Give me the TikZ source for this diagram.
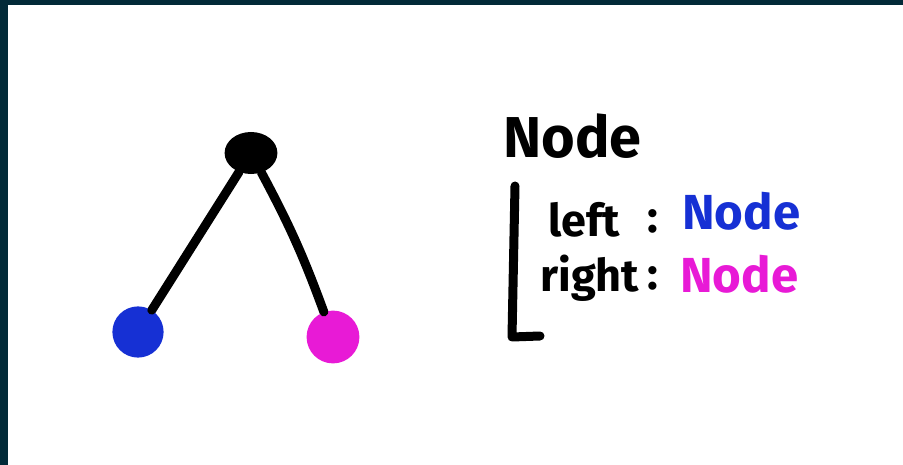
\documentclass[tikz,border=0pt]{standalone}
\usepackage{fontspec}
\setmainfont{Fira Sans}
\usepackage{tikz}
\usetikzlibrary{shapes.geometric,positioning}

\definecolor{framebg}{RGB}{2,42,56}
\definecolor{markerblue}{RGB}{22,48,212}
\definecolor{markerpink}{RGB}{232,26,214}

\begin{document}
\begin{tikzpicture}[
    x=0.025cm, y=-0.025cm,
    ball/.style={circle, draw=none, inner sep=0pt, minimum size=1.28cm},
    link/.style={line width=6.4pt, line cap=round},
    head/.style={anchor=base west, inner sep=0pt, font=\bfseries\fontsize{41}{41}\selectfont},
    lbl/.style={anchor=base west, inner sep=0pt, font=\bfseries\fontsize{32}{32}\selectfont},
    val/.style={lbl, font=\bfseries\fontsize{35}{35}\selectfont}
]
\useasboundingbox (0,0) rectangle (903,465);
\fill[framebg] (0,0) rectangle (903,465);
\fill[white] (8,5) rectangle (903,465);

% tree
\node[ellipse, fill=black, inner sep=0pt, minimum width=1.32cm, minimum height=1.05cm] (root) at (251,153) {};
\node[ball, fill=markerblue] (lchild) at (138,332) {};
\node[ball, fill=markerpink, minimum size=1.32cm] (rchild) at (333,337) {};

\draw[link] (root) -- (lchild);
\draw[link] (root) to[bend left=4] (rchild);

% struct
\node[head] (title) at (503,158) {Node};
\draw[link, line join=round] (515,186) -- (512,337) -- (540,336);
\node[lbl] (lkey) at (548,237) {left};
\node[lbl, anchor=base] (lcolon) at (653,233) {:};
\node[val, text=markerblue] (lval) at (682,230) {Node};
\node[lbl] (rkey) at (540,292) {right};
\node[lbl, anchor=base] (rcolon) at (653,290) {:};
\node[val, text=markerpink] (rval) at (680,293) {Node};
\end{tikzpicture}
\end{document}
